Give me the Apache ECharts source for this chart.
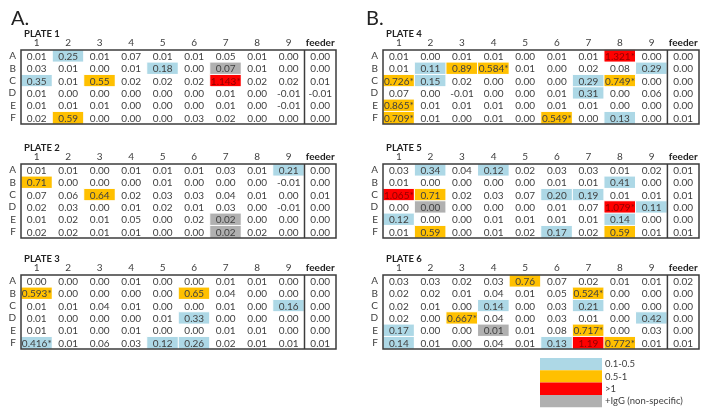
<!DOCTYPE html>
<html>
<head>
<meta charset="utf-8">
<script src="https://cdn.jsdelivr.net/npm/echarts@6/dist/echarts.min.js"></script>
<style>html,body{margin:0;padding:0;background:#fff}#c{width:704px;height:414px}</style>
</head>
<body>
<div id="c"></div>
<script>
const columns = ['1','2','3','4','5','6','7','8','9','feeder'];
const rows = ['A','B','C','D','E','F'];
const plateNames = ['PLATE 1','PLATE 2','PLATE 3','PLATE 4','PLATE 5','PLATE 6'];
const legendLabels = ['0.1-0.5','0.5-1','>1','+IgG (non-specific)'];

const plate1 = [
  ['0.01','0.25','0.01','0.07','0.01','0.01','0.05','0.01','0.00','0.00'],
  ['0.03','0.01','0.00','0.01','0.18','0.00','0.07','0.01','0.00','0.00'],
  ['0.35','0.01','0.55','0.02','0.02','0.02','1.143*','0.02','0.02','0.01'],
  ['0.01','0.00','0.00','0.00','0.00','0.00','0.01','0.00','-0.01','-0.01'],
  ['0.01','0.01','0.01','0.00','0.00','0.00','0.01','0.00','-0.01','0.00'],
  ['0.02','0.59','0.00','0.00','0.00','0.03','0.02','0.00','0.00','0.00']
];
const plate2 = [
  ['0.01','0.01','0.00','0.01','0.01','0.01','0.03','0.01','0.21','0.00'],
  ['0.71','0.00','0.00','0.00','0.01','0.00','0.00','0.00','-0.01','0.00'],
  ['0.07','0.06','0.64','0.02','0.03','0.03','0.04','0.01','0.00','0.01'],
  ['0.02','0.03','0.00','0.01','0.02','0.01','0.03','0.00','-0.01','0.00'],
  ['0.01','0.02','0.01','0.05','0.00','0.02','0.02','0.00','0.00','0.00'],
  ['0.02','0.02','0.01','0.01','0.00','0.00','0.02','0.02','0.00','0.00']
];
const plate3 = [
  ['0.00','0.00','0.00','0.01','0.00','0.00','0.01','0.01','0.00','0.00'],
  ['0.593*','0.00','0.00','0.00','0.00','0.65','0.04','0.00','0.00','0.00'],
  ['0.01','0.01','0.04','0.01','0.00','0.00','0.01','0.00','0.16','0.00'],
  ['0.01','0.00','0.00','0.00','0.01','0.33','0.00','0.00','0.00','0.00'],
  ['0.01','0.01','0.00','0.01','0.00','0.00','0.01','0.01','0.00','0.00'],
  ['0.416*','0.01','0.06','0.03','0.12','0.26','0.02','0.01','0.01','0.01']
];
const plate4 = [
  ['0.01','0.00','0.01','0.01','0.00','0.01','0.01','1.321*','0.00','0.00'],
  ['0.01','0.11','0.89','0.584*','0.01','0.00','0.02','0.08','0.29','0.00'],
  ['0.726*','0.15','0.02','0.00','0.00','0.00','0.29','0.749*','0.00','0.00'],
  ['0.07','0.00','-0.01','0.00','0.00','0.01','0.31','0.00','0.06','0.00'],
  ['0.865*','0.01','0.01','0.01','0.00','0.01','0.01','0.00','0.00','0.00'],
  ['0.709*','0.01','0.00','0.01','0.00','0.549*','0.00','0.13','0.00','0.01']
];
const plate5 = [
  ['0.03','0.34','0.04','0.12','0.02','0.03','0.03','0.01','0.02','0.01'],
  ['0.01','0.00','0.00','0.00','0.00','0.01','0.01','0.41','0.00','0.00'],
  ['1.065*','0.71','0.02','0.03','0.07','0.20','0.19','0.01','0.01','0.01'],
  ['0.00','0.00','0.00','0.00','0.00','0.01','0.07','1.079*','0.11','0.00'],
  ['0.12','0.00','0.00','0.01','0.01','0.01','0.01','0.14','0.00','0.00'],
  ['0.01','0.59','0.00','0.01','0.02','0.17','0.02','0.59','0.01','0.01']
];
const plate6 = [
  ['0.03','0.03','0.02','0.03','0.76','0.07','0.02','0.01','0.01','0.02'],
  ['0.02','0.02','0.01','0.04','0.01','0.05','0.524*','0.00','0.00','0.00'],
  ['0.02','0.01','0.00','0.14','0.00','0.03','0.21','0.00','0.00','0.00'],
  ['0.02','0.00','0.667*','0.04','0.00','0.03','0.01','0.00','0.42','0.00'],
  ['0.17','0.00','0.00','0.01','0.01','0.08','0.717*','0.00','0.03','0.00'],
  ['0.14','0.01','0.00','0.04','0.01','0.13','1.19','0.772*','0.01','0.01']
];
// wells with +IgG (non-specific) signal
const igg1 = ['B7'];
const igg2 = ['E7','F7'];
const igg3 = [];
const igg4 = [];
const igg5 = ['D2'];
const igg6 = ['E4'];

const plates = [plate1, plate2, plate3, plate4, plate5, plate6];
const iggs = [igg1, igg2, igg3, igg4, igg5, igg6];

const FONT = 'Lato';
const TXT = '#404040';
const RED_TXT = '#900000';
const COLORS = ['#add8e6', '#ffc000', '#ff0000', '#b0b0b0'];

function category(v, isIgg) {
  if (isIgg) return 4;
  if (v > 1) return 3;
  if (v >= 0.5) return 2;
  if (v >= 0.1) return 1;
  return 0;
}

const gridPos = [[21, 50], [21, 164], [21, 275], [383, 50], [383, 164], [383, 275]];
const grids = [], xAxes = [], yAxes = [], series = [], heatIdx = [];
const titles = [
  {text: 'A.', left: 6, top: 4, textStyle: {fontFamily: FONT, fontSize: 20, fontWeight: 'normal', color: '#222'}},
  {text: 'B.', left: 361, top: 4, textStyle: {fontFamily: FONT, fontSize: 20, fontWeight: 'normal', color: '#222'}}
];

plates.forEach((plate, p) => {
  const [gl, gt] = gridPos[p];
  grids.push({left: gl, top: gt, width: p < 3 ? 315 : 316, height: 74, show: true,
    borderColor: '#3c3c3c', borderWidth: 1.5, backgroundColor: 'transparent', z: 5});
  titles.push({text: plateNames[p], left: gl + 3, top: gt - 21, padding: 0,
    textStyle: {fontFamily: FONT, fontSize: 9.5, fontWeight: 'bold', color: '#222'}});
  xAxes.push({type: 'category', gridIndex: p, data: columns, position: 'top',
    axisLine: {show: false}, axisTick: {show: false}, splitLine: {show: false},
    axisLabel: {interval: 0, margin: 2, fontFamily: FONT, fontSize: 10, color: TXT,
      formatter: v => v === 'feeder' ? '{b|feeder}' : v,
      rich: {b: {fontFamily: FONT, fontSize: 10, fontWeight: 'bold', color: '#222'}}}});
  yAxes.push({type: 'category', gridIndex: p, data: rows, inverse: true,
    axisLine: {show: false}, axisTick: {show: false}, splitLine: {show: false},
    axisLabel: {interval: 0, margin: 5, fontFamily: FONT, fontSize: 10, color: TXT}});
  const data = [];
  plate.forEach((row, r) => {
    row.forEach((txt, c) => {
      const v = parseFloat(txt);
      const cat = category(v, iggs[p].includes(rows[r] + columns[c]));
      data.push({value: [c, r, v, cat], txt: txt});
    });
  });
  heatIdx.push(series.length);
  series.push({type: 'heatmap', xAxisIndex: p, yAxisIndex: p, data: data,
    itemStyle: {borderColor: '#fff', borderWidth: 1},
    label: {show: false}, emphasis: {disabled: true}});
  // cell value texts
  series.push({type: 'custom', xAxisIndex: p, yAxisIndex: p, z: 8, silent: true,
    data: data.map(d => ({value: [d.value[0], d.value[1], d.value[3]], txt: d.txt})),
    renderItem: (params, api) => {
      const pt = api.coord([api.value(0), api.value(1)]);
      const d = data[params.dataIndex];
      return {type: 'text', x: pt[0], y: pt[1] + 0.5,
        style: {text: d.txt, fill: d.value[3] === 3 ? RED_TXT : TXT,
          font: '10px ' + FONT, align: 'center', verticalAlign: 'middle'}};
    }});
  // separator line before the "feeder" column, placed through the axis scale
  series.push({type: 'custom', xAxisIndex: p, yAxisIndex: p, z: 10, silent: true,
    data: [[columns.length - 1, 0]],
    renderItem: (params, api) => {
      const cs = params.coordSys;
      const x = api.coord([api.value(0), 0])[0] - api.size([1, 0])[0] / 2;
      return {type: 'line', shape: {x1: x, y1: cs.y, x2: x, y2: cs.y + cs.height},
        style: {stroke: '#3c3c3c', lineWidth: 1.5}};
    }});
});

const option = {
  animation: false,
  backgroundColor: '#fff',
  title: titles,
  grid: grids,
  xAxis: xAxes,
  yAxis: yAxes,
  visualMap: {
    type: 'piecewise', dimension: 3, orient: 'vertical', inverse: true, align: 'left',
    seriesIndex: heatIdx,
    left: 540, top: 358, itemWidth: 62, itemHeight: 12.3, itemGap: 0, itemSymbol: 'rect',
    selectedMode: false, padding: 0, textGap: 3,
    textStyle: {fontFamily: FONT, fontSize: 9.5, color: TXT},
    pieces: legendLabels.map((l, i) => ({value: i + 1, label: l, color: COLORS[i]})),
    outOfRange: {color: '#ffffff'}
  },
  series: series
};

const chart = echarts.init(document.getElementById('c'), null, {renderer: 'canvas'});
chart.setOption(option);
</script>
</body>
</html>
